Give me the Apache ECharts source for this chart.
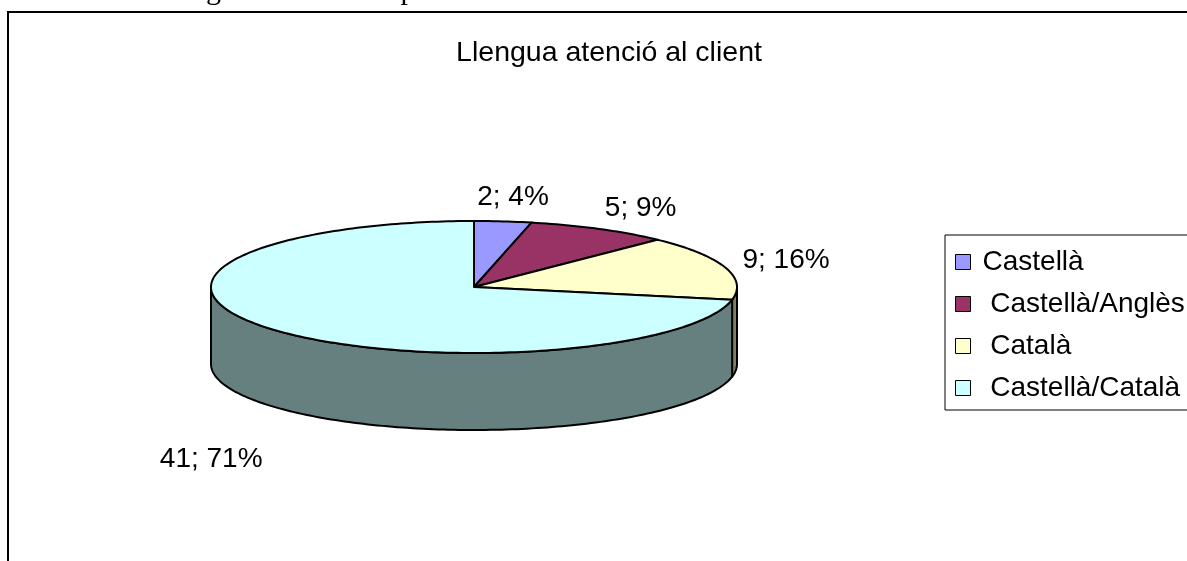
<!DOCTYPE html>
<html>
<head>
<meta charset="utf-8">
<script src="https://cdn.jsdelivr.net/npm/echarts@6/dist/echarts.min.js"></script>
<style>
  html, body { margin: 0; padding: 0; background: #fff; }
  #main { width: 1187px; height: 561px; }
</style>
</head>
<body>
<div id="main"></div>
<script>
var chart = echarts.init(document.getElementById('main'));

// data
var categories = ['Castellà', ' Castellà/Anglès', ' Català', ' Castellà/Català'];
var values = [2, 5, 9, 41];
var percents = [4, 9, 16, 71];
var colors = ['#9999FF', '#993366', '#FFFFCC', '#CCFFFF'];
var sideColors = ['#4d4d80', '#4d1a33', '#808066', '#668080'];

var total = values.reduce(function (s, v) { return s + v; }, 0);
var starts = [];
var acc = 0;
values.forEach(function (v) { starts.push(acc); acc += v; });

// pie geometry (pixels)
var cx = 474, cy = 287, rx = 263, ry = 66, depth = 77;
var font = '28px "Liberation Sans", Arial, sans-serif';

function pt(t, dy) {
    return [cx + rx * Math.sin(t), cy - ry * Math.cos(t) + (dy || 0)];
}

function arc(t0, t1, dy) {
    var pts = [];
    var n = Math.max(2, Math.ceil((t1 - t0) / 0.02));
    for (var k = 0; k <= n; k++) {
        pts.push(pt(t0 + (t1 - t0) * k / n, dy));
    }
    return pts;
}

function renderSlice(params, api) {
    var i = params.seriesIndex;
    var v = api.value(0);
    var a0 = starts[i] / total * Math.PI * 2;
    var a1 = (starts[i] + v) / total * Math.PI * 2;
    var children = [];

    // visible front wall
    var w0 = Math.max(a0, Math.PI / 2), w1 = Math.min(a1, Math.PI * 1.5);
    if (w1 > w0) {
        var wall = arc(w0, w1, 0).concat(arc(w0, w1, depth).reverse());
        children.push({
            type: 'polygon',
            z2: 1,
            shape: { points: wall },
            style: { fill: sideColors[i], stroke: '#000', lineWidth: 2, lineJoin: 'round' }
        });
    }

    // top face
    var top = [[cx, cy]].concat(arc(a0, a1, 0));
    children.push({
        type: 'polygon',
        z2: 2,
        shape: { points: top },
        style: { fill: colors[i], stroke: '#000', lineWidth: 2, lineJoin: 'round' }
    });

    // data label
    var m = (a0 + a1) / 2;
    var c = Math.cos(m);
    var lx = cx + (315 + 40 * Math.abs(c)) * Math.sin(m);
    var ly = c >= 0 ? cy - 90 * c : cy + depth - 150 * c;
    children.push({
        type: 'text',
        z2: 3,
        x: lx,
        y: ly,
        style: {
            text: v + '; ' + percents[i] + '%',
            font: font,
            fill: '#000',
            align: 'center',
            verticalAlign: 'middle'
        }
    });

    return { type: 'group', children: children };
}

var series = categories.map(function (name, i) {
    return {
        type: 'custom',
        name: name,
        coordinateSystem: 'none',
        renderItem: renderSlice,
        itemStyle: { color: colors[i] },
        silent: true,
        data: [values[i]]
    };
});

chart.setOption({
    animation: false,
    backgroundColor: '#fff',
    title: {
        text: 'Llengua atenció al client',
        left: 604,
        top: 34,
        textAlign: 'center',
        textStyle: {
            fontFamily: '"Liberation Sans", Arial, sans-serif',
            fontSize: 28.5,
            fontWeight: 'normal',
            color: '#000'
        }
    },
    legend: {
        orient: 'vertical',
        left: 945,
        top: 235,
        data: categories,
        icon: 'rect',
        itemWidth: 15,
        itemHeight: 15,
        itemGap: 14,
        selectedMode: false,
        padding: [13, 60, 8, 10],
        borderColor: '#000',
        borderWidth: 1,
        itemStyle: { borderColor: '#000', borderWidth: 1 },
        textStyle: {
            fontFamily: '"Liberation Sans", Arial, sans-serif',
            fontSize: 28,
            lineHeight: 28,
            color: '#000',
            padding: [0, 0, 0, 7]
        }
    },
    graphic: [
        {
            type: 'rect',
            shape: { x: 8, y: 12, width: 1300, height: 700 },
            style: { fill: 'none', stroke: '#000', lineWidth: 2 },
            silent: true
        },
        {
            type: 'text',
            x: 36,
            y: 6,
            style: {
                text: 'Gràfic 5: Llengua d\'atenció al públic',
                font: '30px "Liberation Serif", "Times New Roman", serif',
                fill: '#000',
                verticalAlign: 'bottom'
            },
            silent: true
        }
    ],
    series: series
});
</script>
</body>
</html>
